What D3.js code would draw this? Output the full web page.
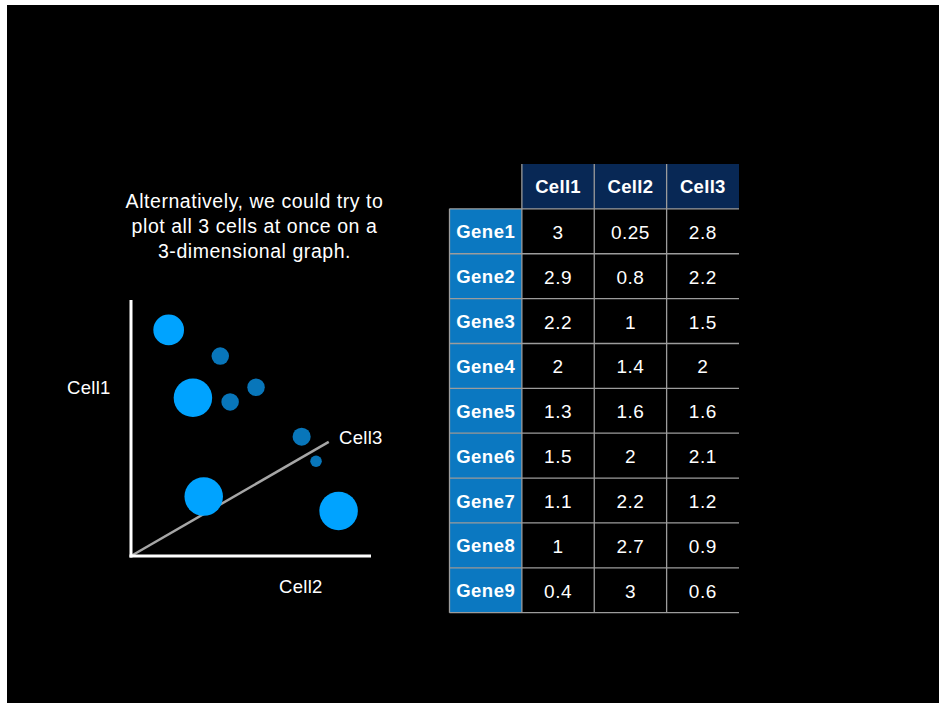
<!DOCTYPE html>
<html>
<head>
<meta charset="utf-8">
<script src="https://cdn.jsdelivr.net/npm/d3@7"></script>
<style>
  html, body { margin: 0; padding: 0; background: #ffffff; }
  svg { display: block; }
  text { font-family: "Liberation Sans", Arial, Helvetica, sans-serif; fill: #ffffff; }
</style>
</head>
<body>
<svg id="chart" width="939" height="705"></svg>
<script>
// ---------- DATA ----------
const titleLines = ["Alternatively, we could try to", "plot all 3 cells at once on a", "3-dimensional graph."];

// schematic 3-D scatter (plot units 0-100 on Cell2 / Cell1 axes, depth 0-10 along Cell3)
const pointCell2 = [15.7, 37.2, 25.8, 52.1, 41.3, 71.1, 77.1, 30.3, 86.5];
const pointCell1 = [88.3, 78.1, 61.8, 65.9, 60.2, 46.6, 37.0, 23.2, 17.6];
const pointDepth = [3.1, 7.5, 0.5, 7.5, 7.5, 7.3, 9.5, 0.5, 0.5];
const depthAxisEnd = [82.4, 44.6]; // Cell3 axis end in (Cell2, Cell1) plot units

const axisLabels = ["Cell1", "Cell2", "Cell3"];

// table
const genes = ["Gene1", "Gene2", "Gene3", "Gene4", "Gene5", "Gene6", "Gene7", "Gene8", "Gene9"];
const cells = ["Cell1", "Cell2", "Cell3"];
const cell1Values = ["3", "2.9", "2.2", "2", "1.3", "1.5", "1.1", "1", "0.4"];
const cell2Values = ["0.25", "0.8", "1", "1.4", "1.6", "2", "2.2", "2.7", "3"];
const cell3Values = ["2.8", "2.2", "1.5", "2", "1.6", "2.1", "1.2", "0.9", "0.6"];

// ---------- DRAW ----------
const svg = d3.select("#chart");
svg.append("rect").attr("x", 0).attr("y", 0).attr("width", 939).attr("height", 705).attr("fill", "#ffffff");
svg.append("rect").attr("x", 7).attr("y", 5).attr("width", 932).attr("height", 698).attr("fill", "#000000");

// title
svg.append("g").selectAll("text").data(titleLines).join("text")
  .attr("x", 254.5)
  .attr("y", (d, i) => 208 + i * 25)
  .attr("text-anchor", "middle")
  .attr("font-size", 19.5)
  .attr("letter-spacing", 0.55)
  .text(d => d);

// scatter scales
const x = d3.scaleLinear().domain([0, 100]).range([131, 371]);
const y = d3.scaleLinear().domain([0, 100]).range([556, 300]);
const r = d3.scaleLinear().domain([0, 10]).range([20, 5]);
const col = d3.scaleThreshold().domain([5]).range(["#00A3FF", "#0876BA"]);

const plot = svg.append("g");
// Cell3 depth axis
plot.append("line")
  .attr("x1", x(0)).attr("y1", y(0))
  .attr("x2", x(depthAxisEnd[0])).attr("y2", y(depthAxisEnd[1]))
  .attr("stroke", "#a6a6a6").attr("stroke-width", 2.5);

// points: draw back (dark) first, then front
const pts = pointCell2.map((v, i) => ({ c2: v, c1: pointCell1[i], d: pointDepth[i] }))
  .sort((a, b) => b.d - a.d);
plot.selectAll("circle").data(pts).join("circle")
  .attr("cx", d => x(d.c2))
  .attr("cy", d => y(d.c1))
  .attr("r", d => r(d.d))
  .attr("fill", d => col(d.d));

// Cell1 / Cell2 axes
plot.append("line")
  .attr("x1", x(0)).attr("y1", y(100)).attr("x2", x(0)).attr("y2", y(0) + 1.5)
  .attr("stroke", "#ffffff").attr("stroke-width", 3);
plot.append("line")
  .attr("x1", x(0) - 1.5).attr("y1", y(0)).attr("x2", x(100)).attr("y2", y(0))
  .attr("stroke", "#ffffff").attr("stroke-width", 3);

// axis labels
const labelFont = 18.5;
plot.append("text").attr("x", 67).attr("y", 394).attr("font-size", labelFont).attr("letter-spacing", 0.3).text(axisLabels[0]);
plot.append("text").attr("x", 279).attr("y", 593).attr("font-size", labelFont).attr("letter-spacing", 0.3).text(axisLabels[1]);
plot.append("text").attr("x", 339).attr("y", 444).attr("font-size", labelFont).attr("letter-spacing", 0.3).text(axisLabels[2]);

// ---------- TABLE ----------
const colKeys = ["gene"].concat(cells);
const rowKeys = ["header"].concat(genes);
const tx = d3.scaleBand().domain(colKeys).range([449.5, 739]);
const ty = d3.scaleBand().domain(rowKeys).range([164, 612.7]);
const valueCols = [cell1Values, cell2Values, cell3Values];

const table = svg.append("g");
// header cells
table.selectAll("rect.head").data(cells).join("rect")
  .attr("class", "head")
  .attr("x", d => tx(d)).attr("y", ty("header"))
  .attr("width", tx.bandwidth()).attr("height", ty.bandwidth())
  .attr("fill", "#082855");
// gene cells
table.selectAll("rect.gene").data(genes).join("rect")
  .attr("class", "gene")
  .attr("x", tx("gene")).attr("y", d => ty(d))
  .attr("width", tx.bandwidth()).attr("height", ty.bandwidth())
  .attr("fill", "#0B78C1");

// grid lines
const gridColor = "#9c9c9c";
table.selectAll("line.h").data(genes.concat(["end"])).join("line")
  .attr("class", "h")
  .attr("x1", tx("gene")).attr("x2", tx.range()[1])
  .attr("y1", d => d === "end" ? ty.range()[1] : ty(d))
  .attr("y2", d => d === "end" ? ty.range()[1] : ty(d))
  .attr("stroke", gridColor).attr("stroke-width", 1.3);
table.selectAll("line.v").data(cells).join("line")
  .attr("class", "v")
  .attr("x1", d => tx(d)).attr("x2", d => tx(d))
  .attr("y1", ty("header")).attr("y2", ty.range()[1])
  .attr("stroke", gridColor).attr("stroke-width", 1.3);
table.append("line")
  .attr("x1", tx("gene")).attr("x2", tx("gene"))
  .attr("y1", ty(genes[0])).attr("y2", ty.range()[1])
  .attr("stroke", gridColor).attr("stroke-width", 1.3);

// header text
table.selectAll("text.head").data(cells).join("text")
  .attr("class", "head")
  .attr("x", d => tx(d) + tx.bandwidth() / 2)
  .attr("y", ty("header") + ty.bandwidth() / 2 + 7)
  .attr("text-anchor", "middle")
  .attr("font-size", 18.5).attr("font-weight", "bold").attr("letter-spacing", 0.3)
  .text(d => d);
// gene text
table.selectAll("text.gene").data(genes).join("text")
  .attr("class", "gene")
  .attr("x", tx("gene") + tx.bandwidth() / 2)
  .attr("y", d => ty(d) + ty.bandwidth() / 2 + 7)
  .attr("text-anchor", "middle")
  .attr("font-size", 18.5).attr("font-weight", "bold").attr("letter-spacing", 0.5)
  .text(d => d);
// values
cells.forEach((c, ci) => {
  table.append("g").selectAll("text").data(valueCols[ci]).join("text")
    .attr("x", tx(c) + tx.bandwidth() / 2)
    .attr("y", (d, i) => ty(genes[i]) + ty.bandwidth() / 2 + 7.5)
    .attr("text-anchor", "middle")
    .attr("font-size", 19).attr("letter-spacing", 0.5)
    .text(d => d);
});
</script>
</body>
</html>
